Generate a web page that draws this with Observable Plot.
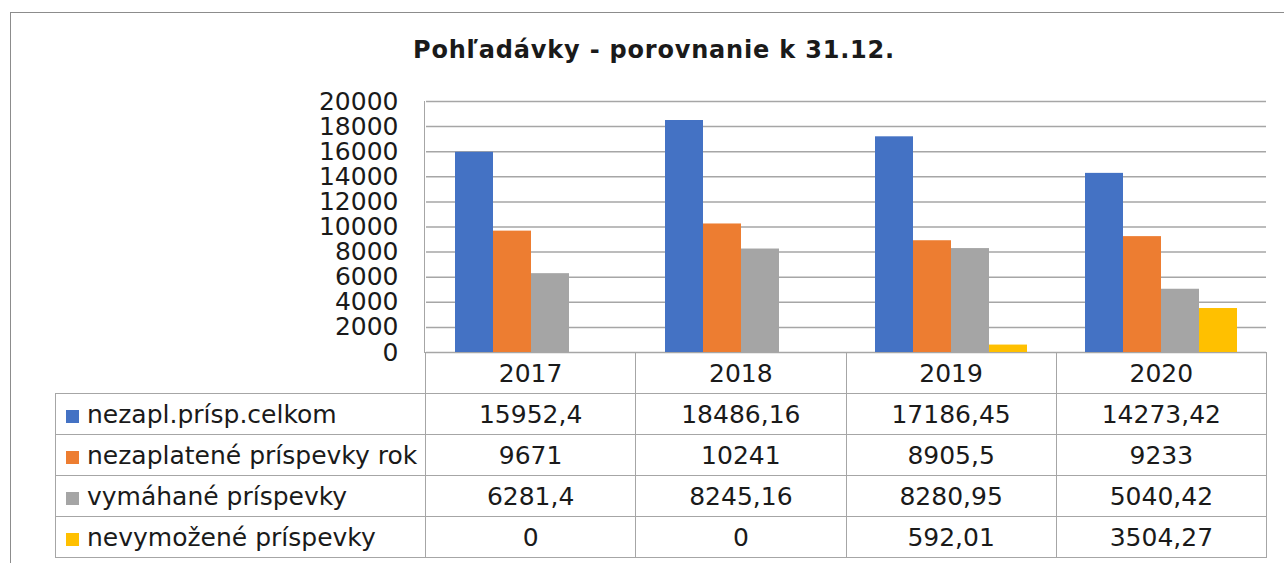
<!DOCTYPE html>
<html><head><meta charset="utf-8">
<script src="https://cdn.jsdelivr.net/npm/d3@7"></script>
<script src="https://cdn.jsdelivr.net/npm/@observablehq/plot@0.6"></script>
<style>
body{margin:0;background:#fff;font-family:"DejaVu Sans",sans-serif;color:#1a1a1a}
#root{position:relative;width:1284px;height:563px;overflow:hidden;background:#fff}
#frame{position:absolute;left:10px;top:12px;width:1300px;height:600px;border-top:1.5px solid #8c8c8c;border-left:1.5px solid #8c8c8c}
#title{position:absolute;left:0;top:38px;width:1308px;text-align:center;font-size:24px;line-height:24px;font-weight:bold;letter-spacing:0.8px;white-space:nowrap}
#chart{position:absolute;left:0;top:80px}
#axisline{position:absolute;left:424px;top:101px;width:0;height:252px;border-left:1.5px solid #a6a6a6}
#tbl{position:absolute;left:55px;top:352px;border-collapse:collapse;table-layout:fixed;font-size:25px;line-height:1}
#tbl td{border:1.5px solid #a6a6a6;height:40px;padding:0;text-align:center;white-space:nowrap;overflow:hidden}
#tbl td.blank{border-top:none;border-left:none}
#tbl td.lab{text-align:left;padding-left:10px}
.sw{display:inline-block;width:13px;height:13px;margin-right:8px;vertical-align:0px}
</style>
</head><body>
<div id="root">
  <div id="frame"></div>
  <div id="title"></div>
  <div id="chart"></div>
  <div id="axisline"></div>
  <table id="tbl"></table>
</div>
<script>
const titleText = "Pohľadávky - porovnanie k 31.12.";
const years = ["2017", "2018", "2019", "2020"];
const series = ["nezapl.prísp.celkom", "nezaplatené príspevky rok", "vymáhané príspevky", "nevymožené príspevky"];
const colors = ["#4472C4", "#ED7D31", "#A5A5A5", "#FFC000"];
const celkom = [15952.4, 18486.16, 17186.45, 14273.42];
const rok = [9671, 10241, 8905.5, 9233];
const vymahane = [6281.4, 8245.16, 8280.95, 5040.42];
const nevymozene = [0, 0, 592.01, 3504.27];
const yTicks = [0, 2000, 4000, 6000, 8000, 10000, 12000, 14000, 16000, 18000, 20000];

const valuesBySeries = [celkom, rok, vymahane, nevymozene];
const data = [];
years.forEach((yr, i) => series.forEach((s, j) => data.push({year: yr, series: s, value: valuesBySeries[j][i]})));

document.getElementById("title").textContent = titleText;

const chart = Plot.plot({
  width: 1284,
  height: 272,
  marginLeft: 425,
  marginRight: 18,
  marginTop: 21,
  marginBottom: 0,
  fx: {domain: years, paddingInner: 0, paddingOuter: 0, axis: null},
  x: {domain: series, paddingInner: 0, paddingOuter: 0.763, axis: null},
  y: {domain: [0, 20000], axis: null},
  color: {domain: series, range: colors},
  style: {fontFamily: "DejaVu Sans", fontSize: "25px", color: "#1a1a1a", background: "transparent", overflow: "visible"},
  marks: [
    Plot.ruleY(yTicks, {y: d => d, stroke: "#a6a6a6", strokeWidth: 1.5, strokeOpacity: 1}),
    Plot.barY(data, {fx: "year", x: "series", y: "value", fill: "series"}),
    Plot.axisY(yTicks, {anchor: "left", tickSize: 0, tickPadding: 28, fontSize: 25, label: null, tickFormat: d => String(d)})
  ]
});
document.getElementById("chart").appendChild(chart);

// data table below the chart
const fmt = v => String(v).replace(".", ",");
const tbl = document.getElementById("tbl");
const cg = document.createElement("colgroup");
[370, 210.25, 210.25, 210.25, 210.25].forEach(w => { const c = document.createElement("col"); c.style.width = w + "px"; cg.appendChild(c); });
tbl.appendChild(cg);
const hr = document.createElement("tr");
const blank = document.createElement("td"); blank.className = "blank"; hr.appendChild(blank);
years.forEach(y => { const td = document.createElement("td"); td.textContent = y; hr.appendChild(td); });
tbl.appendChild(hr);
series.forEach((s, j) => {
  const tr = document.createElement("tr");
  const lab = document.createElement("td"); lab.className = "lab";
  const sw = document.createElement("span"); sw.className = "sw"; sw.style.background = colors[j];
  lab.appendChild(sw); lab.appendChild(document.createTextNode(s));
  tr.appendChild(lab);
  valuesBySeries[j].forEach(v => { const td = document.createElement("td"); td.textContent = fmt(v); tr.appendChild(td); });
  tbl.appendChild(tr);
});
</script>
</body></html>
